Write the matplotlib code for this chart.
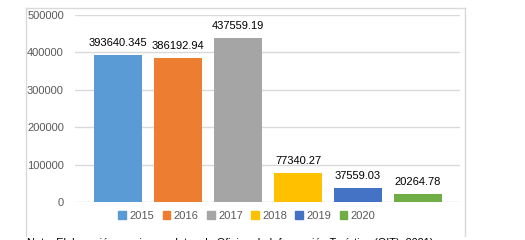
import matplotlib
matplotlib.use("Agg")
import matplotlib.pyplot as plt
from matplotlib.lines import Line2D
from matplotlib.patches import Patch

years = ["2015", "2016", "2017", "2018", "2019", "2020"]
values = [393640.345, 386192.94, 437559.19, 77340.27, 37559.03, 20264.78]
labels = ["393640.345", "386192.94", "437559.19", "77340.27", "37559.03", "20264.78"]
colors = ["#5B9BD5", "#ED7D31", "#A5A5A5", "#FFC000", "#4472C4", "#70AD47"]
yticks = [0, 100000, 200000, 300000, 400000, 500000]

plt.rcParams["font.family"] = ["Liberation Sans", "DejaVu Sans"]

fig = plt.figure(figsize=(5.25, 2.4), dpi=100)
ax = fig.add_axes([75/525, 1-202/240, (460-75)/525, (202-15)/240])

x = range(len(years))
bars = ax.bar(x, values, width=0.8, color=colors, zorder=3)
for b, lab in zip(bars, labels):
    ax.annotate(lab, (b.get_x() + b.get_width()/2, b.get_height()),
                xytext=(0, 5), textcoords="offset points",
                ha="center", va="bottom", fontsize=8, color="black")

ax.set_xlim(-0.72, 5.7)
ax.set_ylim(0, 500000)
ax.set_yticks(yticks)
ax.set_yticklabels([str(v) for v in yticks])
ax.set_xticks([])
ax.tick_params(axis="y", length=0, pad=8, labelsize=8, labelcolor="#595959")
ax.grid(axis="y", color="#D9D9D9", linewidth=1, zorder=0)
for s in ax.spines.values():
    s.set_visible(False)

handles = [Patch(color=c) for c in colors]
fig.legend(handles, years, loc="center", bbox_to_anchor=(247/525, 1-216/240),
           ncol=6, frameon=False, fontsize=8, labelcolor="#595959",
           handlelength=0.7, handleheight=0.7, handletextpad=0.3, columnspacing=0.75)

# chart border
W, H = 525, 240
fig.add_artist(Line2D([26/W, 26/W], [1-8/H, 1-236/H], color="#D9D9D9", lw=1, transform=fig.transFigure))
fig.add_artist(Line2D([26/W, 465/W], [1-8/H, 1-8/H], color="#D9D9D9", lw=1, transform=fig.transFigure))
fig.add_artist(Line2D([465/W, 465/W], [1-8/H, 1-236/H], color="#D9D9D9", lw=1, transform=fig.transFigure))

fig.text(27/W, 1-237.5/H, "Nota: Elaboración propia con datos de Oficina de Información Turística (OIT), 2021)",
         fontsize=7.8, va="top", ha="left", color="black")

fig.savefig("out.png", dpi=100)
